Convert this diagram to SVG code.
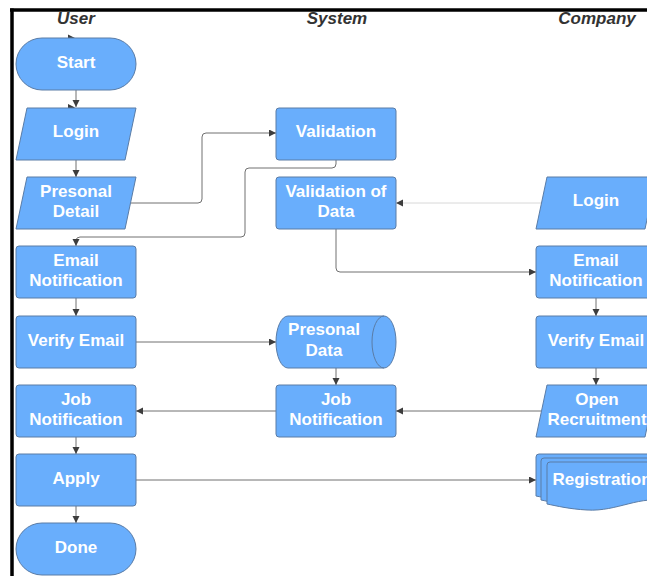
<svg xmlns="http://www.w3.org/2000/svg" width="647" height="576" viewBox="0 0 647 576">
<defs>
<style>
.n{fill:#69aefc;stroke:#5a7ca6;stroke-width:1}
.t{font-family:"Liberation Sans",Arial,sans-serif;font-size:17px;font-weight:bold;fill:#ffffff;text-anchor:middle}
.h{font-family:"Liberation Sans",Arial,sans-serif;font-size:17px;font-weight:bold;font-style:italic;fill:#333333;text-anchor:middle}
.c{fill:none;stroke:#707070;stroke-width:1}
.cl{fill:none;stroke:#d8d8d8;stroke-width:1}
.ah{fill:#3d3d3d}
</style>
<marker id="arr" markerUnits="userSpaceOnUse" markerWidth="8" markerHeight="8" refX="7" refY="3.5" orient="auto">
<path d="M0,0 L7,3.5 L0,7 Z" fill="#3d3d3d"/>
</marker>
<path id="doc" d="M0,3 Q0,0 3,0 H117 Q120,0 120,3 V40 C95,32 70,50 40,48 C22,47 10,44 0,42 Z"/>
</defs>
<rect width="647" height="576" fill="#ffffff"/>
<g id="frame">
<line x1="10" y1="10" x2="647" y2="10" stroke="#000" stroke-width="3.5"/>
<line x1="12" y1="8.5" x2="12" y2="576" stroke="#000" stroke-width="3.5"/>
</g>
<g id="headers">
<text class="h" x="76" y="24">User</text>
<text class="h" x="337" y="24">System</text>
<text class="h" x="597" y="24">Company</text>
</g>
<g id="connectors">
<path class="c" d="M76 90 V107" marker-end="url(#arr)"/>
<path class="c" d="M76 160 V177" marker-end="url(#arr)"/>
<path class="c" d="M131 203 H198 Q202 203 202 199 V137 Q202 133 206 133 H276" marker-end="url(#arr)"/>
<path class="c" d="M336 160 V164 Q336 168 332 168 H249 Q245 168 245 172 V233 Q245 237 241 237 H80 Q76 237 76 241 V246" marker-end="url(#arr)"/>
<path class="cl" d="M541 203 H396" marker-end="url(#arr)"/>
<path class="c" d="M336 229 V268 Q336 272 340 272 H536" marker-end="url(#arr)"/>
<path class="c" d="M76 298 V316" marker-end="url(#arr)"/>
<path class="c" d="M596 298 V316" marker-end="url(#arr)"/>
<path class="c" d="M136 342 H276" marker-end="url(#arr)"/>
<path class="c" d="M336 368 V385" marker-end="url(#arr)"/>
<path class="c" d="M596 368 V385" marker-end="url(#arr)"/>
<path class="c" d="M541 411 H396" marker-end="url(#arr)"/>
<path class="c" d="M276 411 H136" marker-end="url(#arr)"/>
<path class="c" d="M76 437 V454" marker-end="url(#arr)"/>
<path class="c" d="M76 506 V523" marker-end="url(#arr)"/>
<path class="c" d="M136 480 H536" marker-end="url(#arr)"/>
<path class="ah" d="M68 34.5 L75 38 L68 41.5 Z"/>
<path class="ah" d="M68 104 L75 107.5 L68 111 Z"/>
</g>
<g id="user-start">
<rect class="n" x="16" y="38" width="120" height="52" rx="26"/>
<text class="t" x="76" y="68">Start</text>
</g>
<g id="user-login">
<path class="n" d="M27 108 H136 L125 160 H16 Z"/>
<text class="t" x="76" y="137">Login</text>
</g>
<g id="user-personal-detail">
<path class="n" d="M27 177 H136 L125 229 H16 Z"/>
<text class="t" x="76" y="197">Presonal</text>
<text class="t" x="76" y="217">Detail</text>
</g>
<g id="user-email-notification">
<rect class="n" x="16" y="246" width="120" height="52" rx="3"/>
<text class="t" x="76" y="266">Email</text>
<text class="t" x="76" y="286">Notification</text>
</g>
<g id="user-verify-email">
<rect class="n" x="16" y="316" width="120" height="52" rx="3"/>
<text class="t" x="76" y="346">Verify Email</text>
</g>
<g id="user-job-notification">
<rect class="n" x="16" y="385" width="120" height="52" rx="3"/>
<text class="t" x="76" y="405">Job</text>
<text class="t" x="76" y="425">Notification</text>
</g>
<g id="user-apply">
<rect class="n" x="16" y="454" width="120" height="52" rx="3"/>
<text class="t" x="76" y="484">Apply</text>
</g>
<g id="user-done">
<rect class="n" x="16" y="523" width="120" height="52" rx="26"/>
<text class="t" x="76" y="553">Done</text>
</g>
<g id="system-validation">
<rect class="n" x="276" y="108" width="120" height="52" rx="3"/>
<text class="t" x="336" y="137">Validation</text>
</g>
<g id="system-validation-of-data">
<rect class="n" x="276" y="177" width="120" height="52" rx="3"/>
<text class="t" x="336" y="197">Validation of</text>
<text class="t" x="336" y="217">Data</text>
</g>
<g id="system-personal-data">
<path class="n" d="M288 316 H384 A12 26 0 0 1 384 368 H288 A12 26 0 0 1 288 316 Z"/>
<path fill="none" stroke="#5a7ca6" stroke-width="1" d="M384 316 A12 26 0 0 0 384 368"/>
<text class="t" x="324" y="335">Presonal</text>
<text class="t" x="324" y="356">Data</text>
</g>
<g id="system-job-notification">
<rect class="n" x="276" y="385" width="120" height="52" rx="3"/>
<text class="t" x="336" y="405">Job</text>
<text class="t" x="336" y="425">Notification</text>
</g>
<g id="company-login">
<path class="n" d="M547 177 H656 L645 229 H536 Z"/>
<text class="t" x="596" y="206">Login</text>
</g>
<g id="company-email-notification">
<rect class="n" x="536" y="246" width="120" height="52" rx="3"/>
<text class="t" x="596" y="266">Email</text>
<text class="t" x="596" y="286">Notification</text>
</g>
<g id="company-verify-email">
<rect class="n" x="536" y="316" width="120" height="52" rx="3"/>
<text class="t" x="596" y="346">Verify Email</text>
</g>
<g id="company-open-recruitment">
<path class="n" d="M547 385 H656 L645 437 H536 Z"/>
<text class="t" x="597" y="405">Open</text>
<text class="t" x="597" y="425">Recruitment</text>
</g>
<g id="company-registration">
<use href="#doc" class="n" x="536" y="454"/>
<use href="#doc" class="n" x="541" y="458"/>
<use href="#doc" class="n" x="547" y="462"/>
<text class="t" x="602" y="485">Registration</text>
</g>
</svg>
